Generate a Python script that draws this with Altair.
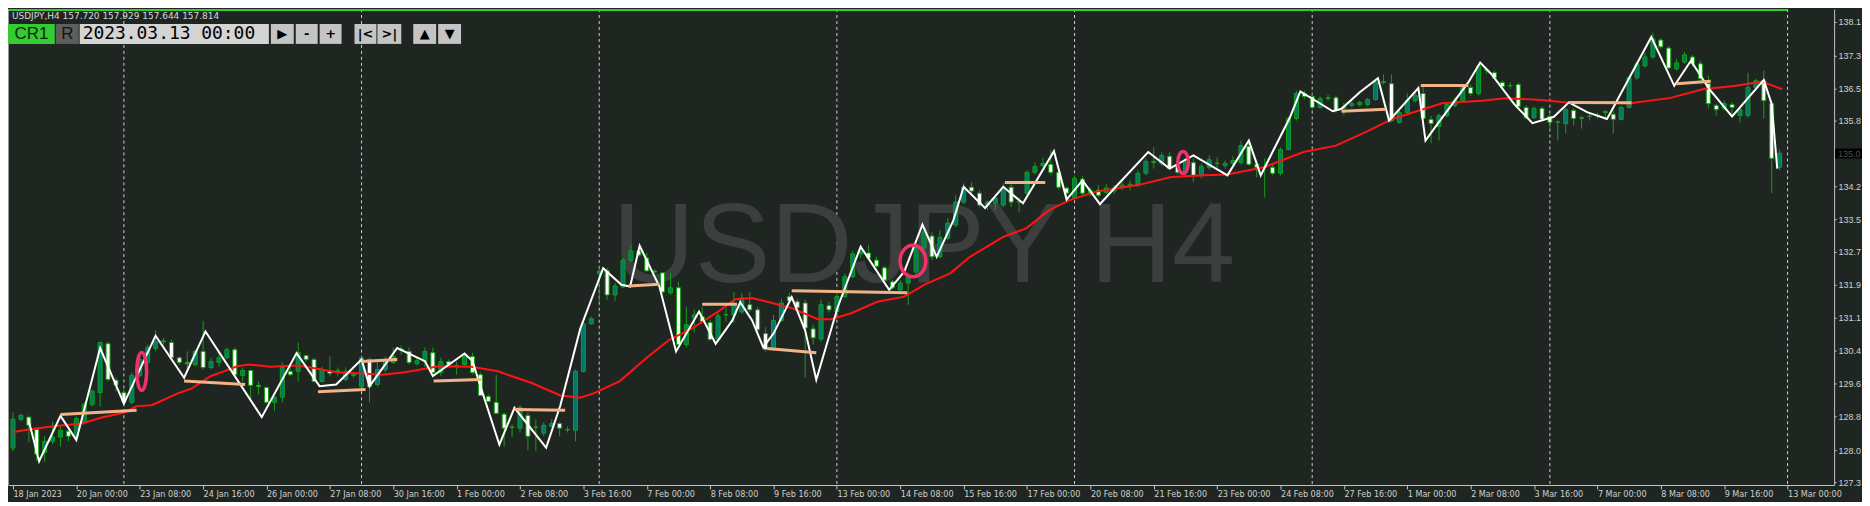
import altair as alt
import pandas as pd

# ---------------- data ----------------
open_ = [
    128.13, 128.81, 128.86, 128.57, 128.03, 128.29, 128.39, 128.53,
    128.41, 128.74, 129.16, 129.44, 130.59, 129.73, 129.44, 129.21,
    129.84, 130.15, 130.48, 130.64, 130.62, 130.26, 130.15, 130.10,
    130.41, 130.03, 130.15, 130.26, 130.45, 129.84, 129.96, 129.61,
    129.56, 129.21, 129.33, 129.94, 129.94, 130.31, 130.22, 129.70,
    129.96, 129.94, 129.75, 129.84, 129.58, 130.22, 129.63, 129.98,
    130.15, 130.45, 130.41, 130.12, 130.17, 130.38, 129.91, 130.17,
    130.05, 130.10, 130.29, 129.86, 129.35, 129.21, 128.93, 128.62,
    128.60, 128.90, 128.62, 128.48, 128.64, 128.71, 128.57, 128.55,
    129.94, 131.06, 132.26, 132.31, 131.74, 131.93, 132.56, 132.78,
    132.61, 132.30, 132.26, 131.79, 131.91, 130.57, 131.20, 131.23,
    131.09, 130.69, 131.27, 131.27, 131.34, 131.51, 131.39, 130.83,
    130.49, 131.14, 131.70, 131.58, 131.55, 130.94, 130.70, 131.49,
    131.35, 131.70, 132.17, 132.71, 132.73, 132.56, 132.38, 132.05,
    131.86, 132.02, 132.28, 132.85, 133.13, 132.64, 133.08, 133.39,
    133.93, 134.28, 134.14, 133.86, 133.90, 133.86, 134.28, 133.93,
    134.14, 134.63, 134.79, 134.82, 134.63, 134.26, 134.04, 134.47,
    134.14, 134.21, 134.16, 134.19, 134.28, 134.30, 134.33, 134.61,
    134.86, 134.84, 135.01, 134.79, 134.63, 134.86, 134.58, 134.75,
    134.84, 134.79, 134.84, 134.86, 135.24, 134.82, 134.75, 134.75,
    134.61, 135.17, 135.90, 136.49, 136.42, 136.16, 136.37, 136.39,
    136.14, 136.21, 136.23, 136.23, 136.35, 136.75, 136.72, 135.81,
    136.04, 136.32, 136.49, 135.88, 135.71, 135.97, 136.21, 136.32,
    136.63, 136.49, 137.03, 136.98, 136.75, 136.67, 136.70, 136.16,
    135.92, 136.14, 135.95, 135.81, 135.78, 136.09, 135.90, 135.95,
    135.97, 136.04, 136.00, 135.88, 136.16, 136.86, 137.14, 137.35,
    137.75, 137.56, 137.07, 137.23, 137.35, 137.19, 136.72, 136.21,
    136.14, 136.23, 135.97, 135.97, 136.63, 136.79, 136.25, 134.75,
]
high = [
    128.97, 128.95, 128.90, 128.62, 128.41, 128.76, 128.64, 128.57,
    128.88, 129.21, 129.51, 130.64, 130.64, 129.79, 129.51, 129.91,
    130.29, 130.57, 130.90, 130.73, 130.69, 130.29, 130.41, 130.45,
    131.13, 130.26, 130.38, 130.50, 130.50, 130.03, 129.98, 129.70,
    129.58, 129.35, 130.15, 130.10, 130.62, 130.33, 130.26, 130.05,
    130.29, 130.03, 130.03, 129.91, 130.29, 130.26, 130.22, 130.29,
    130.50, 130.55, 130.50, 130.26, 130.50, 130.50, 130.26, 130.22,
    130.17, 130.38, 130.38, 129.91, 129.40, 129.86, 128.97, 128.69,
    129.14, 128.97, 128.81, 128.74, 128.81, 128.74, 128.64, 129.98,
    131.20, 131.23, 132.38, 132.38, 132.02, 132.61, 132.92, 132.87,
    132.73, 132.35, 132.28, 132.26, 132.05, 131.46, 131.39, 131.46,
    131.16, 131.32, 131.44, 131.81, 131.79, 131.81, 131.46, 130.98,
    131.27, 131.65, 131.79, 131.65, 131.63, 131.04, 131.63, 131.58,
    131.81, 132.24, 132.78, 132.92, 132.92, 132.64, 132.42, 132.09,
    132.09, 132.26, 132.89, 133.32, 133.22, 133.27, 133.55, 134.09,
    134.37, 134.40, 134.21, 133.97, 134.09, 134.37, 134.35, 134.04,
    134.68, 134.86, 134.98, 135.15, 134.68, 134.30, 134.56, 134.54,
    134.28, 134.33, 134.35, 134.33, 134.40, 134.44, 134.68, 134.96,
    135.22, 135.10, 135.10, 134.91, 134.96, 134.96, 134.84, 135.03,
    134.98, 134.91, 135.01, 135.38, 135.38, 134.91, 134.96, 134.84,
    135.22, 135.95, 136.56, 136.56, 136.49, 136.42, 136.46, 136.44,
    136.28, 136.32, 136.32, 136.39, 136.79, 136.94, 136.94, 136.09,
    136.49, 136.51, 136.68, 135.97, 136.02, 136.28, 136.39, 136.68,
    136.70, 137.19, 137.10, 137.03, 136.79, 136.75, 136.75, 136.21,
    136.18, 136.18, 136.00, 135.85, 136.16, 136.14, 135.97, 136.02,
    136.04, 136.09, 136.09, 136.21, 136.91, 137.24, 137.45, 137.92,
    137.80, 137.61, 137.31, 137.47, 137.40, 137.26, 136.91, 136.25,
    136.32, 136.28, 136.18, 136.98, 136.84, 137.03, 136.32, 135.17,
]
low = [
    128.06, 128.76, 128.27, 127.82, 127.80, 128.22, 128.17, 128.29,
    128.34, 128.69, 129.11, 129.11, 129.70, 129.47, 129.16, 129.16,
    129.79, 130.10, 130.41, 130.57, 130.22, 130.10, 129.91, 130.05,
    129.98, 129.98, 130.05, 130.22, 129.82, 129.70, 129.28, 129.40,
    129.18, 129.00, 129.21, 129.82, 129.70, 130.17, 129.68, 129.68,
    129.82, 129.82, 129.70, 129.79, 129.56, 129.21, 129.58, 129.91,
    130.12, 130.33, 130.10, 130.08, 130.05, 129.86, 129.82, 130.05,
    129.86, 130.05, 129.86, 129.35, 129.21, 128.93, 128.17, 128.39,
    128.50, 128.08, 128.06, 128.41, 128.62, 128.41, 128.50, 128.29,
    129.91, 131.04, 131.56, 131.63, 131.60, 131.91, 132.52, 132.64,
    132.28, 132.26, 131.79, 131.74, 130.52, 130.50, 130.85, 131.09,
    130.66, 130.64, 131.11, 131.09, 131.30, 131.34, 130.80, 130.40,
    130.42, 131.10, 131.55, 131.40, 129.79, 130.57, 130.64, 131.32,
    131.30, 131.67, 132.14, 132.61, 132.56, 132.38, 132.05, 131.86,
    131.81, 131.51, 132.21, 132.80, 132.56, 132.61, 133.03, 133.34,
    133.88, 134.14, 133.81, 133.74, 133.74, 133.81, 133.81, 133.69,
    134.09, 134.58, 134.75, 134.58, 134.23, 133.97, 134.00, 134.09,
    134.07, 134.04, 134.12, 134.12, 134.21, 134.21, 134.28, 134.56,
    134.72, 134.79, 134.68, 134.58, 134.56, 134.40, 134.49, 134.68,
    134.72, 134.72, 134.79, 134.82, 134.79, 134.51, 134.04, 134.56,
    134.56, 135.15, 135.85, 136.35, 136.11, 136.14, 136.32, 136.04,
    135.97, 136.16, 136.18, 136.18, 136.32, 136.70, 135.81, 135.78,
    135.97, 136.28, 135.85, 135.31, 135.38, 135.92, 136.16, 136.28,
    136.44, 136.44, 136.96, 136.81, 136.60, 136.60, 136.14, 135.88,
    135.88, 135.83, 135.62, 135.38, 135.55, 135.73, 135.66, 135.85,
    135.90, 135.92, 135.55, 135.85, 136.14, 136.81, 137.10, 137.31,
    137.54, 137.07, 137.03, 137.19, 137.12, 136.75, 136.14, 135.97,
    136.09, 135.92, 135.81, 135.92, 136.58, 135.90, 134.14, 134.68,
]
close = [
    128.81, 128.90, 128.67, 127.99, 128.29, 128.39, 128.55, 128.41,
    128.83, 129.16, 129.47, 130.62, 129.75, 129.61, 129.21, 129.84,
    130.22, 130.50, 130.64, 130.66, 130.26, 130.15, 130.12, 130.41,
    130.03, 130.17, 130.26, 130.45, 129.86, 129.96, 129.61, 129.58,
    129.21, 129.33, 130.03, 129.86, 130.38, 130.22, 129.70, 129.98,
    129.89, 129.96, 129.94, 129.86, 130.26, 129.58, 129.98, 130.17,
    130.29, 130.47, 130.15, 130.19, 130.41, 129.91, 130.17, 130.10,
    130.08, 130.29, 129.91, 129.37, 129.23, 128.95, 128.60, 128.63,
    129.09, 128.41, 128.63, 128.67, 128.71, 128.60, 128.56, 129.94,
    131.06, 131.18, 132.30, 131.74, 131.95, 132.56, 132.78, 132.68,
    132.31, 132.28, 131.81, 131.91, 130.57, 131.04, 131.27, 131.11,
    130.69, 131.25, 131.28, 131.53, 131.67, 131.39, 130.92, 130.45,
    131.14, 131.55, 131.60, 131.44, 130.96, 130.73, 131.51, 131.39,
    131.70, 132.17, 132.71, 132.78, 132.61, 132.42, 132.09, 131.91,
    132.02, 132.16, 132.85, 133.22, 132.64, 133.10, 133.43, 133.93,
    134.28, 134.19, 133.86, 133.93, 134.02, 134.28, 133.93, 133.95,
    134.63, 134.77, 134.84, 134.63, 134.28, 134.14, 134.49, 134.14,
    134.21, 134.09, 134.26, 134.26, 134.33, 134.35, 134.61, 134.89,
    134.89, 135.03, 134.72, 134.63, 134.86, 134.56, 134.77, 134.93,
    134.85, 134.84, 134.91, 135.26, 134.82, 134.75, 134.76, 134.61,
    135.17, 135.90, 136.49, 136.42, 136.16, 136.37, 136.39, 136.09,
    136.18, 136.25, 136.28, 136.35, 136.75, 136.77, 135.85, 136.04,
    136.32, 136.44, 135.90, 135.78, 135.97, 136.23, 136.32, 136.63,
    136.49, 137.14, 137.04, 136.86, 136.65, 136.68, 136.18, 135.92,
    136.14, 135.88, 135.81, 135.82, 136.11, 135.90, 135.92, 135.96,
    135.98, 136.07, 135.88, 136.16, 136.86, 137.19, 137.35, 137.78,
    137.59, 137.09, 137.21, 137.40, 137.19, 136.84, 136.25, 136.11,
    136.25, 136.16, 136.11, 136.63, 136.79, 136.32, 134.96, 135.08,
]
bar_idx = list(range(len(open_)))

# moving average (red)
ma_bar = [0, 2, 5.4, 8.7, 11.2, 14.1, 15.6, 17.5, 18.7, 20.8, 22.5, 25, 26.6, 28.3, 29.8,
          32.5, 35.8, 37.9, 40.8, 44.1, 46.6, 49.5, 53.7, 57.9, 61.2, 65.4, 69.1, 71.6, 73.3,
          76.6, 80, 82.9, 85.8, 88.7, 91.2, 93.3, 95.8, 98.3, 101.6, 103.3, 105.8, 109.1,
          112.5, 115, 118.3, 120.8, 125, 127.9, 130.8, 133.3, 136.6, 139.1, 142, 146.2, 150.4,
          153.3, 157.9, 162.9, 167, 171.2, 174.1, 177.5, 180.4, 185.4, 188.3, 192.5, 196.2,
          204.1, 209.1, 213.3, 217.5, 220.8, 223.3]
ma_val = [128.51, 128.57, 128.65, 128.71, 128.85, 128.97, 129.12, 129.14, 129.24, 129.42,
          129.53, 129.83, 129.94, 130.06, 130.10, 130.05, 130.08, 130.02, 129.92, 129.89,
          129.86, 129.92, 130.06, 130.05, 129.94, 129.67, 129.37, 129.32, 129.42, 129.71,
          130.26, 130.69, 130.96, 131.31, 131.64, 131.67, 131.55, 131.43, 131.17, 131.17,
          131.31, 131.58, 131.70, 131.98, 132.25, 132.64, 133.11, 133.31, 133.74, 133.97,
          134.17, 134.25, 134.33, 134.52, 134.56, 134.58, 134.75, 135.11, 135.26, 135.62,
          135.89, 136.09, 136.26, 136.32, 136.38, 136.34, 136.28, 136.26, 136.38, 136.59,
          136.67, 136.77, 136.59]

# white zigzag line
zz_bar = [2, 3.3, 6, 8, 11, 14, 18, 21.6, 24.3, 31.4, 35.8, 38.7, 40.8, 44, 45, 48.5, 52, 53,
          57, 58, 59, 61.4, 63.3, 67.3, 69.1, 71.6, 74.5, 76.8, 77.9, 79.1, 81.6, 83.7, 86.6,
          88.7, 90.8, 91.8, 93.3, 94.7, 96.0, 98.3, 100, 101.4, 104.1, 107, 110.6, 112.5,
          114.8, 116.6, 118.7, 120, 122.7, 125, 127.5, 131.4, 133, 135, 137.2, 139, 143.3,
          146, 149, 153.3, 156, 157.5, 161.2, 162.5, 166.6, 167.7, 170, 172.3, 173.7, 177.4,
          178.3, 179.5, 183.7, 185.2, 186.6, 189.5, 191.8, 194.5, 196.4, 198.7, 201.2, 201.8,
          206.8, 209.7, 211.8, 214.1, 217, 221, 222, 222.7]
zz_val = [128.77, 127.82, 128.89, 128.32, 130.49, 129.18, 130.78, 129.79, 130.88, 128.86,
          130.37, 129.59, 129.63, 130.22, 129.59, 130.49, 130.18, 129.83, 130.36, 130.18,
          129.59, 128.21, 129.08, 128.14, 129.14, 130.94, 132.37, 131.98, 131.94, 132.90,
          131.94, 130.41, 131.35, 130.59, 131.14, 131.57, 131.14, 130.51, 130.83, 131.69,
          130.90, 129.74, 131.45, 132.88, 131.86, 132.29, 133.40, 132.64, 133.50, 134.29,
          133.79, 134.29, 133.90, 135.13, 133.99, 134.44, 133.88, 134.25, 135.11, 134.72,
          135.03, 134.56, 135.38, 134.56, 135.93, 136.54, 136.07, 136.13, 136.52, 136.85,
          135.85, 136.62, 135.38, 135.69, 136.75, 137.22, 136.95, 136.24, 135.79, 135.94,
          136.28, 136.05, 135.89, 136.09, 137.82, 136.67, 137.26, 136.60, 135.95, 136.81,
          136.24, 134.72]

# orange trend segments
seg_x0 = [6.0, 21.6, 38.5, 44.0, 53.1, 63.3, 77.7, 87.0, 95.2, 98.3, 125.2, 167.7, 177.7, 196.4, 210.0]
seg_x1 = [15.6, 29.3, 44.5, 48.5, 59.1, 69.7, 81.6, 91.4, 101.4, 112.9, 130.3, 173.3, 183.7, 204.3, 214.3]
seg_y0 = [128.92, 129.71, 129.46, 130.17, 129.71, 129.04, 131.95, 131.52, 130.48, 131.84, 134.39, 136.07, 136.68, 136.28, 136.72]
seg_y1 = [129.02, 129.63, 129.51, 130.22, 129.75, 129.02, 131.99, 131.52, 130.38, 131.79, 134.39, 136.12, 136.68, 136.27, 136.78]

# pink ellipse markers
ell_bar = [16.25, 113.6, 147.7]
ell_val = [129.94, 132.54, 134.865]

# axes
x_tick_bars = list(range(0, 225, 8))
x_labels = ["18 Jan 2023", "20 Jan 00:00", "23 Jan 08:00", "24 Jan 16:00", "26 Jan 00:00",
            "27 Jan 08:00", "30 Jan 16:00", "1 Feb 00:00", "2 Feb 08:00", "3 Feb 16:00",
            "7 Feb 00:00", "8 Feb 08:00", "9 Feb 16:00", "13 Feb 00:00", "14 Feb 08:00",
            "15 Feb 16:00", "17 Feb 00:00", "20 Feb 08:00", "21 Feb 16:00", "23 Feb 00:00",
            "24 Feb 08:00", "27 Feb 16:00", "1 Mar 00:00", "2 Mar 08:00", "3 Mar 16:00",
            "7 Mar 00:00", "8 Mar 08:00", "9 Mar 16:00", "13 Mar 00:00"]
grid_bars = [14, 44, 74, 104, 134, 164, 194, 224]
y_tick_vals = [138.175, 137.377, 136.598, 135.851, 135.077, 134.299, 133.527, 132.753,
               131.978, 131.199, 130.429, 129.655, 128.879, 128.081, 127.33]

header_text = "USDJPY,H4 157.720 157.929 157.644 157.814"
watermark_text = "USDJPY H4"
date_text = "2023.03.13 00:00"
button_labels = ["CR1", "R", "\u25B6", "-", "+", "|<", ">|", "\u25B2", "\u25BC"]

# ---------------- layout / style ----------------
W, H = 1834, 478
BG = "#1f2622"
TEAL = "#00796d"
WICK = "#12a012"
RED = "#ff1414"
ORANGE = "#f2b486"
PINK = "#f0326c"
AXIS_C = "#c4c4c4"
LABEL_FONT = "Liberation Sans Narrow, DejaVu Sans Condensed, Liberation Sans, sans-serif"

xs = alt.Scale(domain=[0, 229.25], nice=False, zero=False)
ys = alt.Scale(domain=[127.26, 138.48], nice=False, zero=False)

x_label_expr = "[" + ",".join("'%s'" % s for s in x_labels) + "][round(datum.value/8)]"
x_axis = alt.Axis(values=x_tick_bars, labelExpr=x_label_expr, labelAlign="left",
                  labelBaseline="top", labelPadding=1, tickSize=4,
                  tickColor=AXIS_C, domainColor=AXIS_C, labelColor="#d0d0d0",
                  labelFont=LABEL_FONT, labelFontSize=9, grid=False, title=None,
                  labelOverlap=False, labelFlush=False, labelBound=False)
y_axis = alt.Axis(orient="right", values=y_tick_vals,
                  labelExpr="substring(toString(datum.value), 0, 5)", tickSize=2,
                  labelPadding=2, tickColor=AXIS_C, domainColor=AXIS_C,
                  labelColor="#d0d0d0", labelFont="Liberation Sans, sans-serif",
                  labelFontSize=9, grid=False, title=None, labelOverlap=False,
                  labelFlush=False, labelBound=False)


def X(field):
    return alt.X(field, scale=xs, axis=x_axis)


def Y(field):
    return alt.Y(field, scale=ys, axis=y_axis)


candles = pd.DataFrame({"bar": bar_idx, "open": open_, "high": high, "low": low, "close": close})
ma_df = pd.DataFrame({"bar": ma_bar, "v": ma_val})
zz_df = pd.DataFrame({"bar": zz_bar, "v": zz_val})
seg_df = pd.DataFrame({"x0": seg_x0, "x1": seg_x1, "y0": seg_y0, "y1": seg_y1})
ell_shapes = ["M -0.26 0 A 0.26 1 0 1 0 0.26 0 A 0.26 1 0 1 0 -0.26 0 Z",
              "M -0.82 0 A 0.82 1 0 1 0 0.82 0 A 0.82 1 0 1 0 -0.82 0 Z",
              "M -0.48 0 A 0.48 1 0 1 0 0.48 0 A 0.48 1 0 1 0 -0.48 0 Z"]
ell_sizes = [1444, 1000, 484]
ell_df = pd.DataFrame({"bar": ell_bar, "v": ell_val, "path": ell_shapes, "sz": ell_sizes})

grid = alt.Chart(pd.DataFrame({"g": grid_bars})).mark_rule(
    color="#d0d0d0", strokeDash=[3, 3], strokeWidth=1, clip=True
).encode(x=X("g:Q"))

watermark = alt.Chart(pd.DataFrame({"t": [watermark_text]})).mark_text(
    font="Liberation Sans", fontSize=114, color="#3b403e", align="center", baseline="middle"
).encode(text="t:N", x=alt.value(920), y=alt.value(240))

wicks = alt.Chart(candles).mark_rule(color=WICK, strokeWidth=1, clip=True).encode(
    x=X("bar:Q"), y=Y("low:Q"), y2="high:Q")
bodies = alt.Chart(candles).mark_bar(size=4, stroke=WICK, strokeWidth=1, clip=True).encode(
    x=X("bar:Q"), y=Y("open:Q"), y2="close:Q",
    fill=alt.condition("datum.close >= datum.open", alt.value(TEAL), alt.value("#ffffff")),
)
ma_line = alt.Chart(ma_df).mark_line(color=RED, strokeWidth=2, clip=True).encode(
    x=X("bar:Q"), y=Y("v:Q"))
zz_line = alt.Chart(zz_df).mark_line(color="#ffffff", strokeWidth=2, clip=True).encode(
    x=X("bar:Q"), y=Y("v:Q"))
segs = alt.Chart(seg_df).mark_rule(color=ORANGE, strokeWidth=3, clip=True).encode(
    x=X("x0:Q"), x2="x1:Q", y=Y("y0:Q"), y2="y1:Q")
ellipses = alt.Chart(ell_df).mark_point(filled=False, color=PINK, strokeWidth=3.5, opacity=1).encode(
    x=X("bar:Q"), y=Y("v:Q"),
    shape=alt.Shape("path:N", scale=None), size=alt.Size("sz:Q", scale=None))


# ---- terminal chrome (pixel positions) ----
def rect(x1, x2, y1, y2, fill):
    return alt.Chart(pd.DataFrame({"a": [0]})).mark_rect(color=fill).encode(
        x=alt.value(x1), x2=alt.value(x2), y=alt.value(y1), y2=alt.value(y2))


def label(x, y, txt, size, color, font="Liberation Sans", align="center", weight="normal"):
    return alt.Chart(pd.DataFrame({"a": [0]})).mark_text(
        font=font, fontSize=size, color=color, align=align, baseline="middle", fontWeight=weight
    ).encode(x=alt.value(x), y=alt.value(y), text=alt.value(txt))


chrome = [
    rect(0, 1787, 0, 2, "#33cc33"),
    rect(0, 1, 0, 478, "#9a9a9a"),
    label(4, 6.5, header_text, 9, "#d8d8d8", font="DejaVu Sans", align="left"),
    rect(0, 47, 15, 35, "#33cc33"),
    rect(48, 71, 15, 35, "#5e5e5e"),
    rect(72, 262, 15, 35, "#d4d4d4"),
]
btn_x = [(264, 287), (289, 311), (313, 335), (348, 370), (371, 395), (407, 430), (432, 455)]
for (a, b) in btn_x:
    chrome.append(rect(a, b, 15, 35, "#c4c4c4"))
chrome.append(label(23.5, 25.5, button_labels[0], 17, "#0a2a0a"))
chrome.append(label(59.5, 25.5, button_labels[1], 17, "#141414"))
chrome.append(label(75, 25.5, date_text, 18, "#000000", font="DejaVu Sans Mono", align="left"))
for (a, b), t in zip(btn_x, button_labels[2:]):
    chrome.append(label((a + b) / 2, 25.5, t, 13, "#000000", font="DejaVu Sans", weight="bold"))

last_txt = ("%.3f" % close[-1])[:5]
chrome.append(rect(1835, 1862, 140, 150, "#000000"))
chrome.append(label(1838, 145.5, last_txt, 9, "#505050", align="left"))

chart = alt.layer(
    grid, watermark, wicks, bodies, ma_line, zz_line, segs, ellipses, *chrome
).properties(
    width=W, height=H,
    autosize=alt.AutoSizeParams(type="none"),
    padding={"left": 0, "top": 0, "right": 28, "bottom": 16},
).configure(background=BG).configure_view(fill=BG, stroke=None)

chart.save("out.html", embed_options={"renderer": "svg", "actions": False})
